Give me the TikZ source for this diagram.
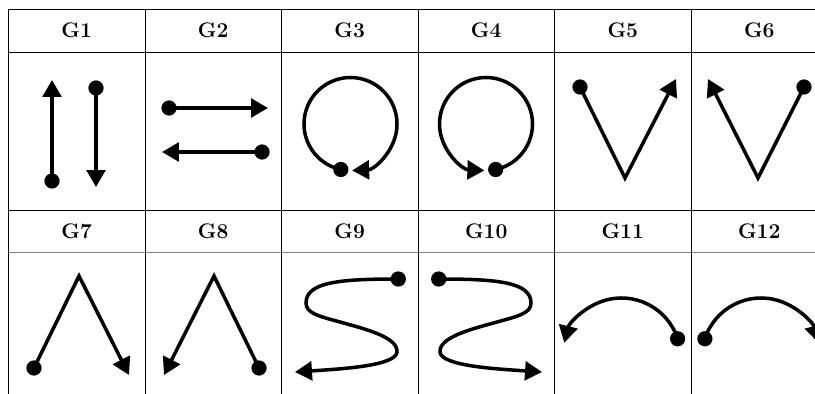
\documentclass[tikz,border=0pt]{standalone}
\usepackage{fontspec}
\usepackage{tikz}
\usetikzlibrary{arrows.meta,calc}

\begin{document}
\begin{tikzpicture}[x=0.03cm, y=-0.03cm,
  >={Triangle[length=14.5pt,width=16pt]},
  glyph/.style={line width=3pt, ->},
  dot/.style={circle, fill, inner sep=0pt, minimum size=13pt},
  hdr/.style={font=\bfseries\fontsize{18}{21}\selectfont},
  rule/.style={line width=0.8pt}]
  \useasboundingbox (0,0) rectangle (815,394);
  \clip (0,0) rectangle (815,394);

  % --- table ---
  \draw[rule] (8.5,9) -- (840,9);
  \draw[rule] (8.5,52.5) -- (840,52.5);
  \draw[rule] (8.5,210.5) -- (840,210.5);
  \draw[rule, gray, line width=1.3pt] (8.5,252.5) -- (840,252.5);
  \draw[rule] (8.5,9) -- (8.5,400);
  \draw[rule] (145,9) -- (145,400);
  \draw[rule] (281.5,9) -- (281.5,400);
  \draw[rule] (418,9) -- (418,400);
  \draw[rule] (554.5,9) -- (554.5,400);
  \draw[rule] (691,9) -- (691,400);
  \draw[rule] (827.5,9) -- (827.5,400);

  % --- headers ---
  \node[hdr] (h1) at (76.75,30.5) {G1};
  \node[hdr] (h2) at (213.25,30.5) {G2};
  \node[hdr] (h3) at (349.75,30.5) {G3};
  \node[hdr] (h4) at (486.25,30.5) {G4};
  \node[hdr] (h5) at (622.75,30.5) {G5};
  \node[hdr] (h6) at (759.25,30.5) {G6};
  \node[hdr] (h7) at (76.75,231.5) {G7};
  \node[hdr] (h8) at (213.25,231.5) {G8};
  \node[hdr] (h9) at (349.75,231.5) {G9};
  \node[hdr] (h10) at (486.25,231.5) {G10};
  \node[hdr] (h11) at (622.75,231.5) {G11};
  \node[hdr] (h12) at (759.25,231.5) {G12};

  % --- G1 ---
  \node[dot] (g1a) at (52,181) {};
  \coordinate (g1b) at (52,80);
  \draw[glyph] (g1a.center) -- (g1b);
  \node[dot] (g1c) at (96,88) {};
  \coordinate (g1d) at (96,187);
  \draw[glyph] (g1c.center) -- (g1d);

  % --- G2 ---
  \node[dot] (g2a) at (169,108) {};
  \coordinate (g2b) at (268,108);
  \draw[glyph] (g2a.center) -- (g2b);
  \node[dot] (g2c) at (262,152) {};
  \coordinate (g2d) at (162,152);
  \draw[glyph] (g2c.center) -- (g2d);

  % --- G3 / G4 ---
  \coordinate (g3o) at (350.5,124);
  \node[dot] (g3a) at ($(g3o)+(102:46.5)$) {};
  \draw[glyph] (g3a.center) arc[start angle=102, end angle=448, radius=46.5];
  \coordinate (g4o) at (486,124);
  \node[dot] (g4a) at ($(g4o)+(78:46.5)$) {};
  \draw[glyph] (g4a.center) arc[start angle=78, end angle=-268, radius=46.5];

  % --- G5 / G6 ---
  \node[dot] (g5a) at (580,87) {};
  \coordinate (g5v) at (625,178);
  \coordinate (g5b) at (676,79);
  \draw[glyph] (g5a.center) -- (g5v) -- (g5b);
  \node[dot] (g6a) at (804,87) {};
  \coordinate (g6v) at (758,178);
  \coordinate (g6b) at (708,79);
  \draw[glyph] (g6a.center) -- (g6v) -- (g6b);

  % --- G7 / G8 ---
  \node[dot] (g7a) at (34,368) {};
  \coordinate (g7v) at (79,276);
  \coordinate (g7b) at (129,375);
  \draw[glyph] (g7a.center) -- (g7v) -- (g7b);
  \node[dot] (g8a) at (259,368) {};
  \coordinate (g8v) at (214,276);
  \coordinate (g8b) at (164,375);
  \draw[glyph] (g8a.center) -- (g8v) -- (g8b);

  % --- G9 / G10 ---
  \node[dot] (g9a) at (398.3,279) {};
  \coordinate (g9b) at (295,372);
  \draw[glyph] (g9a.center) .. controls (340,279) and (306,282) .. (306,303)
    .. controls (306,313) and (318,316) .. (340,322)
    .. controls (365,329) and (398,337) .. (397,352)
    .. controls (396,366) and (340,369) .. (g9b);
  \node[dot] (g10a) at (438.7,279) {};
  \coordinate (g10b) at (542,372);
  \draw[glyph] (g10a.center) .. controls (497,279) and (531,282) .. (531,303)
    .. controls (531,313) and (519,316) .. (497,322)
    .. controls (472,329) and (439,337) .. (440,352)
    .. controls (441,366) and (497,369) .. (g10b);

  % --- G11 / G12 ---
  \coordinate (g11o) at (621.5,357);
  \node[dot] (g11a) at ($(g11o)+(-18:59)$) {};
  \draw[glyph] (g11a.center) arc[start angle=-18, end angle=-166, radius=59];
  \coordinate (g12o) at (761,357);
  \node[dot] (g12a) at ($(g12o)+(198:59)$) {};
  \draw[glyph] (g12a.center) arc[start angle=198, end angle=346, radius=59];
\end{tikzpicture}
\end{document}
